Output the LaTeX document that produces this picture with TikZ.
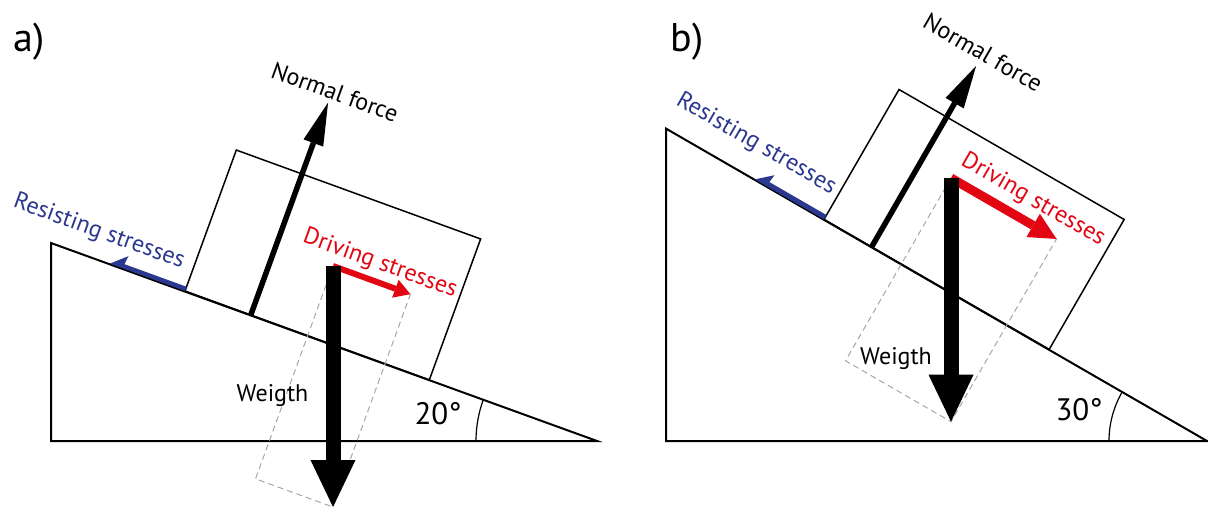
\documentclass[tikz,border=0pt]{standalone}
\usepackage{fontspec}
\setmainfont{PT Sans}
\usetikzlibrary{arrows.meta,calc}
\definecolor{resblue}{RGB}{43,56,143}
\definecolor{drvred}{RGB}{226,6,19}
\tikzset{
  ground/.style={draw, line width=1pt},
  block/.style={draw, line width=0.75pt},
  weight/.style={line width=7.5pt, -{Triangle[length=23.5pt,width=22.5pt,line width=0pt]}},
  normalf/.style={line width=2.75pt, -{Triangle[length=21.5pt,width=10.5pt,line width=0pt]}},
  comp/.style={draw=gray!70, line width=0.5pt, dash pattern=on 3pt off 2pt},
  lbl/.style={inner sep=0pt, font=\fontsize{12}{14}\selectfont},
  panel/.style={inner sep=0pt, font=\fontsize{20}{24}\selectfont},
  anglbl/.style={inner sep=0pt, font=\fontsize{15.5}{18}\selectfont},
}

\begin{document}
\begin{tikzpicture}[x=0.5pt, y=-0.5pt]
\useasboundingbox (0,0) rectangle (1208,508);

% a) 20 degrees
\node[panel] (la) at (29,42) {a)};
\coordinate (a1) at (51,243);
\coordinate (a2) at (51,441);
\coordinate (a3) at (597,441);
\draw[ground] (a1) -- (a2) -- (a3) -- cycle;
\draw[line width=0.6pt] ($(a3)+(-121,0)$) arc[start angle=180, end angle=200, radius=121];
\begin{scope}[shift={(185,291)}, rotate=-20]
  \draw[block] (0,0) rectangle (260,-150);
  \coordinate (na0) at (70,0);
  \coordinate (na1) at (70,-226);
  \fill[resblue] (0,0) -- (0,-4.5) -- (-66,-4.5) -- (-65,-13.5) -- (-80,0) -- cycle;
\end{scope}
\coordinate (wa0) at (333,266);
\coordinate (wa1) at (333,507);
\begin{scope}[shift={(wa0)}, rotate=-20]
  \draw[comp] (0,0) rectangle (82.4,226.5);
  \coordinate (da) at (82.4,0);
\end{scope}
\draw[drvred, line width=3pt, -{Triangle[length=8pt,width=9.5pt,line width=0pt]}] (wa0) -- (da);
\draw[weight] (wa0) -- (wa1);
\draw[normalf] (na0) -- (na1);
\node[lbl, rotate=-20] (nfa) at (335,92) {Normal force};
\node[lbl, rotate=-20, text=resblue] (rsa) at (99,232) {Resisting stresses};
\node[lbl, rotate=-20, text=drvred] (dsa) at (380,264) {Driving stresses};
\node[lbl] (wta) at (272.5,396) {Weigth};
\node[anglbl] (ana) at (438,414) {20°};

% b) 30 degrees
\node[panel] (lb) at (687,42) {b)};
\coordinate (b1) at (666,128.6);
\coordinate (b2) at (666,441);
\coordinate (b3) at (1207,441);
\draw[ground] (b1) -- (b2) -- (b3) -- cycle;
\draw[line width=0.6pt] ($(b3)+(-98,0)$) arc[start angle=180, end angle=210, radius=98];
\begin{scope}[shift={(824,219.4)}, rotate=-30]
  \draw[block] (0,0) rectangle (260,-150);
  \coordinate (nb0) at (55,0);
  \coordinate (nb1) at (55,-209);
  \fill[resblue] (0,0) -- (0,-5) -- (-66,-5) -- (-65,-13.5) -- (-80,0) -- cycle;
\end{scope}
\coordinate (wb0) at (951,178);
\coordinate (wb1) at (951,421.7);
\begin{scope}[shift={(wb0)}, rotate=-30]
  \draw[comp] (0,0) rectangle (121.85,211.05);
  \coordinate (db) at (121.85,0);
\end{scope}
\draw[drvred, line width=4.5pt, -{Triangle[length=13.5pt,width=13.5pt,line width=0pt]}] (wb0) -- (db);
\draw[weight] (wb0) -- (wb1);
\draw[normalf] (nb0) -- (nb1);
\node[lbl, rotate=-30] (nfb) at (983,52.5) {Normal force};
\node[lbl, rotate=-30, text=resblue] (rsb) at (756,144) {Resisting stresses};
\node[lbl, rotate=-30, text=drvred] (dsb) at (1033,200) {Driving stresses};
\node[lbl] (wtb) at (896,359) {Weigth};
\node[anglbl] (anb) at (1079,410) {30°};
\end{tikzpicture}
\end{document}
